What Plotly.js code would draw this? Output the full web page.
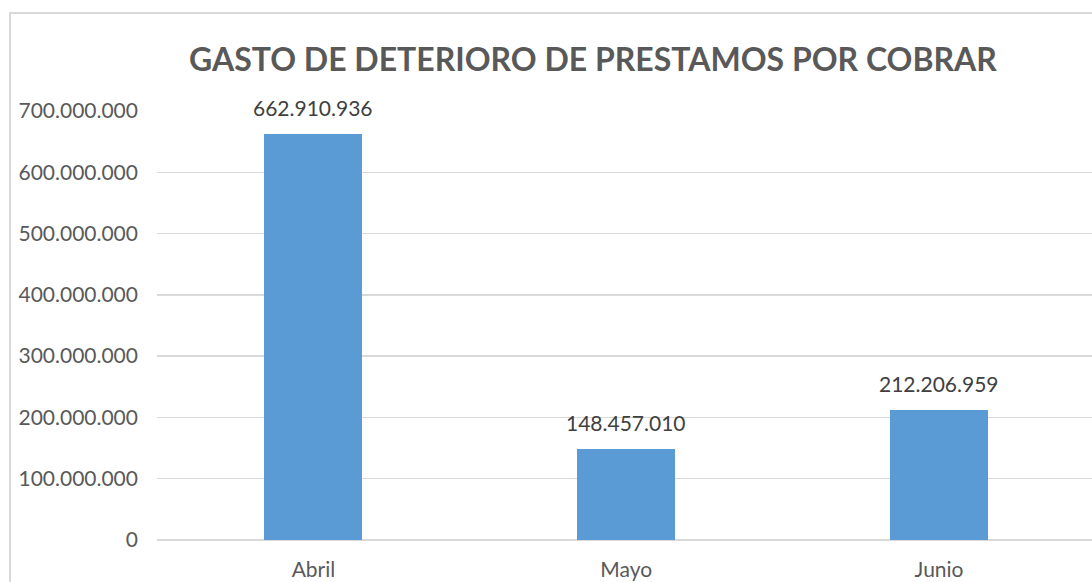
<!DOCTYPE html>
<html>
<head>
<meta charset="utf-8">
<script src="https://cdn.plot.ly/plotly-3.0.1.min.js"></script>
<style>
  html, body { margin: 0; padding: 0; background: #fff; overflow: hidden; }
  #frame { position: absolute; left: 9px; top: 12px; width: 1200px; height: 700px;
           border: 2px solid #d9d9d9; box-sizing: border-box; pointer-events: none; }
  #chart { position: absolute; left: 0; top: 0; width: 1092px; height: 582px; }
</style>
</head>
<body>
<div id="chart"></div>
<div id="frame"></div>
<script>
// Monthly impairment expense on loans receivable
const meses = ['Abril', 'Mayo', 'Junio'];
const gasto = [662910936, 148457010, 212206959];
const yTicks = [0, 100000000, 200000000, 300000000, 400000000, 500000000, 600000000, 700000000];

const FONT = 'Lato, "Open Sans", sans-serif';

const trace = {
    x: meses,
    y: gasto,
    type: 'bar',
    width: 0.313,
    marker: { color: '#5b9bd5' },
    hoverinfo: 'skip'
};

// value labels above each bar
const fmt = v => v.toString().replace(/\B(?=(\d{3})+(?!\d))/g, '.');
const labels = meses.map((m, i) => ({
    x: m,
    y: gasto[i],
    xref: 'x',
    yref: 'y',
    text: fmt(gasto[i]),
    showarrow: false,
    yanchor: 'bottom',
    yshift: 12,
    font: { family: FONT, size: 21, color: '#404040' }
}));

const layout = {
    width: 1092,
    height: 582,
    separators: ',.',
    paper_bgcolor: '#ffffff',
    plot_bgcolor: '#ffffff',
    margin: { l: 157, r: 0, t: 111, b: 42 },
    showlegend: false,
    bargap: 0,
    annotations: labels,
    title: {
        text: '<b>GASTO DE DETERIORO DE PRESTAMOS POR COBRAR</b>',
        font: { family: FONT, size: 32, color: '#595959' },
        x: 0.543, xanchor: 'center',
        y: 0.897, yanchor: 'middle'
    },
    xaxis: {
        range: [-0.5, 2.489],
        showgrid: false,
        showline: false,
        zeroline: false,
        ticks: '',
        ticklabelstandoff: 15,
        tickfont: { family: FONT, size: 21, color: '#595959' }
    },
    yaxis: {
        range: [0, 700000000],
        tickvals: yTicks,
        tickformat: ',d',
        showgrid: true,
        gridcolor: '#d9d9d9',
        gridwidth: 1.5,
        zeroline: true,
        zerolinecolor: '#d9d9d9',
        zerolinewidth: 1.5,
        showline: false,
        ticks: '',
        ticklabelstandoff: 18,
        tickfont: { family: FONT, size: 21, color: '#595959' }
    }
};

Plotly.newPlot('chart', [trace], layout, { displayModeBar: false, staticPlot: true });
</script>
</body>
</html>
